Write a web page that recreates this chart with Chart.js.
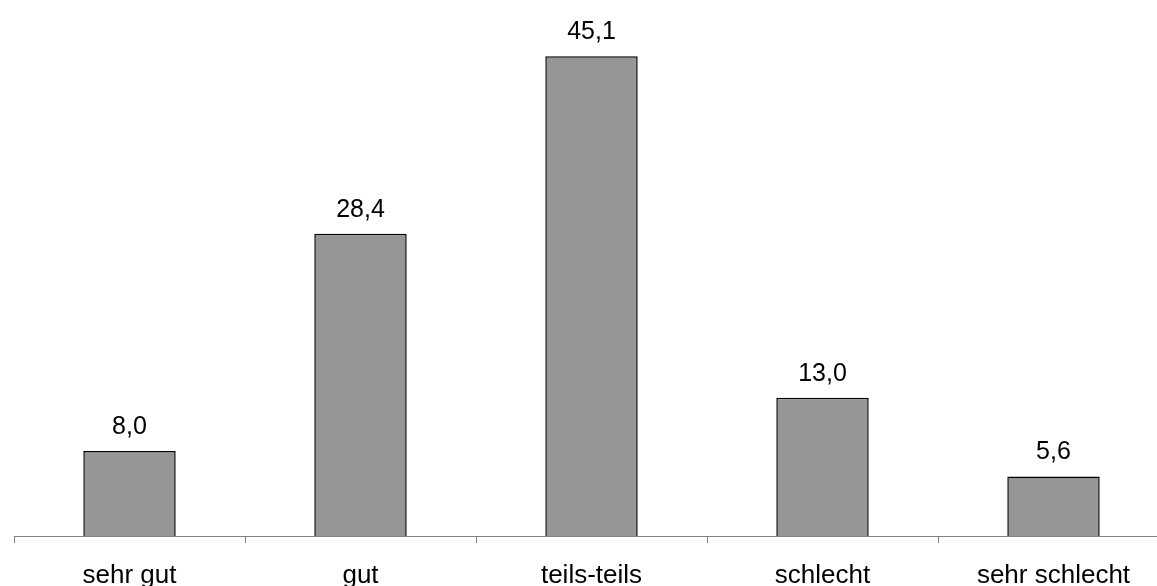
<!DOCTYPE html>
<html>
<head>
<meta charset="utf-8">
<script src="https://cdn.jsdelivr.net/npm/chart.js@4/dist/chart.umd.min.js"></script>
<style>
html,body{margin:0;padding:0;background:#fff;overflow:hidden;width:1157px;height:586px;}
canvas{display:block;}
</style>
</head>
<body>
<canvas id="c" width="1170" height="586"></canvas>
<script>
const categories = ["sehr gut", "gut", "teils-teils", "schlecht", "sehr schlecht"];
const values = [8.0, 28.4, 45.1, 13.0, 5.6];
const valueLabels = ["8,0", "28,4", "45,1", "13,0", "5,6"];

const FONT = "'Liberation Sans', Arial, sans-serif";

const dataLabelPlugin = {
  id: 'dataLabels',
  afterDatasetsDraw(chart) {
    const ctx = chart.ctx;
    const meta = chart.getDatasetMeta(0);
    ctx.save();
    ctx.font = "25px " + FONT;
    ctx.fillStyle = '#000';
    ctx.textAlign = 'center';
    ctx.textBaseline = 'alphabetic';
    meta.data.forEach((bar, i) => {
      ctx.fillText(valueLabels[i], bar.x, bar.y - 17);
    });
    ctx.restore();
  }
};

new Chart(document.getElementById('c'), {
  type: 'bar',
  data: {
    labels: categories,
    datasets: [{
      data: values,
      backgroundColor: '#969696',
      borderColor: '#000000',
      borderWidth: 1.5,
      categoryPercentage: 0.4,
      barPercentage: 1.0
    }]
  },
  options: {
    responsive: false,
    animation: false,
    events: [],
    layout: { padding: { left: 14, right: 1, top: 4, bottom: 0 } },
    plugins: { legend: { display: false }, tooltip: { enabled: false } },
    scales: {
      x: {
        offset: true,
        grid: {
          offset: true,
          drawOnChartArea: false,
          drawTicks: true,
          tickLength: 7,
          color: '#808080',
          lineWidth: 1
        },
        border: { display: true, color: '#808080', width: 1 },
        ticks: {
          color: '#000',
          font: { family: FONT, size: 26 },
          padding: 17,
          maxRotation: 0,
          autoSkip: false
        },
        afterFit(scale) { scale.height = 50; }
      },
      y: {
        display: false,
        min: 0,
        max: 50,
        beginAtZero: true
      }
    }
  },
  plugins: [dataLabelPlugin]
});
</script>
</body>
</html>
